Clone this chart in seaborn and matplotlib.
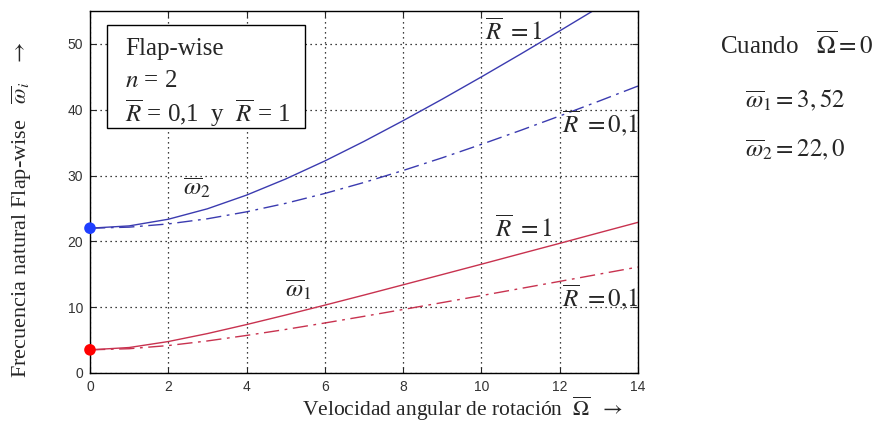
import numpy as np
import pandas as pd
import seaborn as sns
import matplotlib.pyplot as plt
from matplotlib.patches import Rectangle

# velocidad angular (adimensional)
omega_rot = [0, 1, 2, 3, 4, 5, 6, 7, 8, 9, 10, 11, 12, 13, 14]
# frecuencias naturales
w1_R1 = [3.52, 3.87, 4.78, 5.99, 7.36, 8.81, 10.31, 11.84, 13.40, 14.96, 16.53, 18.12, 19.70, 21.30, 22.89]
w1_R01 = [3.52, 3.69, 4.17, 4.87, 5.71, 6.62, 7.60, 8.61, 9.65, 10.70, 11.76, 12.84, 13.92, 15.01, 16.10]
w2_R1 = [22.0, 22.35, 23.36, 24.95, 27.03, 29.48, 32.22, 35.19, 38.34, 41.61, 44.99, 48.45, 51.98, 55.56, 59.18]
w2_R01 = [22.0, 22.16, 22.65, 23.43, 24.49, 25.78, 27.28, 28.95, 30.77, 32.70, 34.74, 36.86, 39.05, 41.30, 43.60]
w_static = [3.52, 22.0]

xticks = [0, 2, 4, 6, 8, 10, 12, 14]
yticks = [0, 10, 20, 30, 40, 50]

sns.set_style("ticks")
plt.rcParams['font.family'] = ['Liberation Serif', 'DejaVu Serif']
plt.rcParams['mathtext.fontset'] = 'stix'

blue = '#3b3bb0'
red = '#c8324f'

fig = plt.figure(figsize=(8.77, 4.24), dpi=100)
ax = fig.add_axes([90 / 877, 1 - 373 / 424, 548 / 877, 362 / 424])

sns.lineplot(x=omega_rot, y=w2_R1, color=blue, lw=1.0, ax=ax)
sns.lineplot(x=omega_rot, y=w2_R01, color=blue, lw=1.0, linestyle=(0, (11, 4, 2, 4)), ax=ax)
sns.lineplot(x=omega_rot, y=w1_R1, color=red, lw=1.0, ax=ax)
sns.lineplot(x=omega_rot, y=w1_R01, color=red, lw=1.0, linestyle=(0, (11, 4, 2, 4)), ax=ax)
sns.scatterplot(x=[0, 0], y=w_static, hue=['1', '2'], palette=['#ff0000', '#1f3fff'], s=70,
                edgecolor='none', legend=False, clip_on=False, zorder=5, ax=ax)

ax.set_xlim(0, 14)
ax.set_ylim(0, 55)
ax.set_xticks(xticks)
ax.set_yticks(yticks)
ax.set_xticklabels([str(t) for t in xticks], family='Liberation Sans', fontsize=10, color='#333333')
ax.set_yticklabels([str(t) for t in yticks], family='Liberation Sans', fontsize=10, color='#333333')
ax.tick_params(direction='in', top=True, right=True, length=4, width=0.8, pad=5)
ax.grid(True, linestyle=(0, (1, 3)), color='black', lw=0.9)
for s in ax.spines.values():
    s.set_color('black')
    s.set_linewidth(1.0)
ax.set_xlabel('')
ax.set_ylabel('')

# cuadro descriptivo
ax.add_patch(Rectangle((0.031, 0.677), 0.361, 0.284, transform=ax.transAxes,
                       fill=True, facecolor='white', edgecolor='black', lw=1.0, zorder=4))
ax.text(0.89, 49.2, 'Flap-wise', fontsize=18, va='center', zorder=6)
ax.text(0.89, 44.4, r'$n$ = 2', fontsize=18, va='center', zorder=6)
ax.text(0.89, 39.5, r'$\overline{R}$ = 0,1  y  $\overline{R}$ = 1', fontsize=18, va='center', zorder=6)

# etiquetas de curvas
ax.text(10.09, 52.0, r'$\overline{R}\ = 1$', fontsize=18, va='center')
ax.text(12.06, 38.0, r'$\overline{R}\ = 0{,}1$', fontsize=18, va='center')
ax.text(2.38, 28.2, r'$\overline{\omega}_2$', fontsize=18, va='center')
ax.text(10.35, 22.0, r'$\overline{R}\ = 1$', fontsize=18, va='center')
ax.text(4.98, 12.6, r'$\overline{\omega}_1$', fontsize=18, va='center')
ax.text(12.06, 11.5, r'$\overline{R}\ = 0{,}1$', fontsize=18, va='center')

fig.text(302 / 877, 1 - 409 / 424, r'Velocidad angular de rotación  $\overline{\Omega}$  $\rightarrow$',
         fontsize=15.5, va='center', ha='left')
fig.text(22 / 877, 0.505, r'Frecuencia natural Flap-wise   $\overline{\omega}_i$   $\rightarrow$',
         fontsize=16, rotation=90, va='center', ha='center')

fig.text(720 / 877, 1 - 45 / 424, r'Cuando   $\overline{\Omega} = 0$', fontsize=18, va='center')
fig.text(745 / 877, 1 - 100 / 424, r'$\overline{\omega}_1 = 3,52$', fontsize=18, va='center')
fig.text(745 / 877, 1 - 150 / 424, r'$\overline{\omega}_2 = 22,0$', fontsize=18, va='center')

fig.savefig('out.png', dpi=100)
